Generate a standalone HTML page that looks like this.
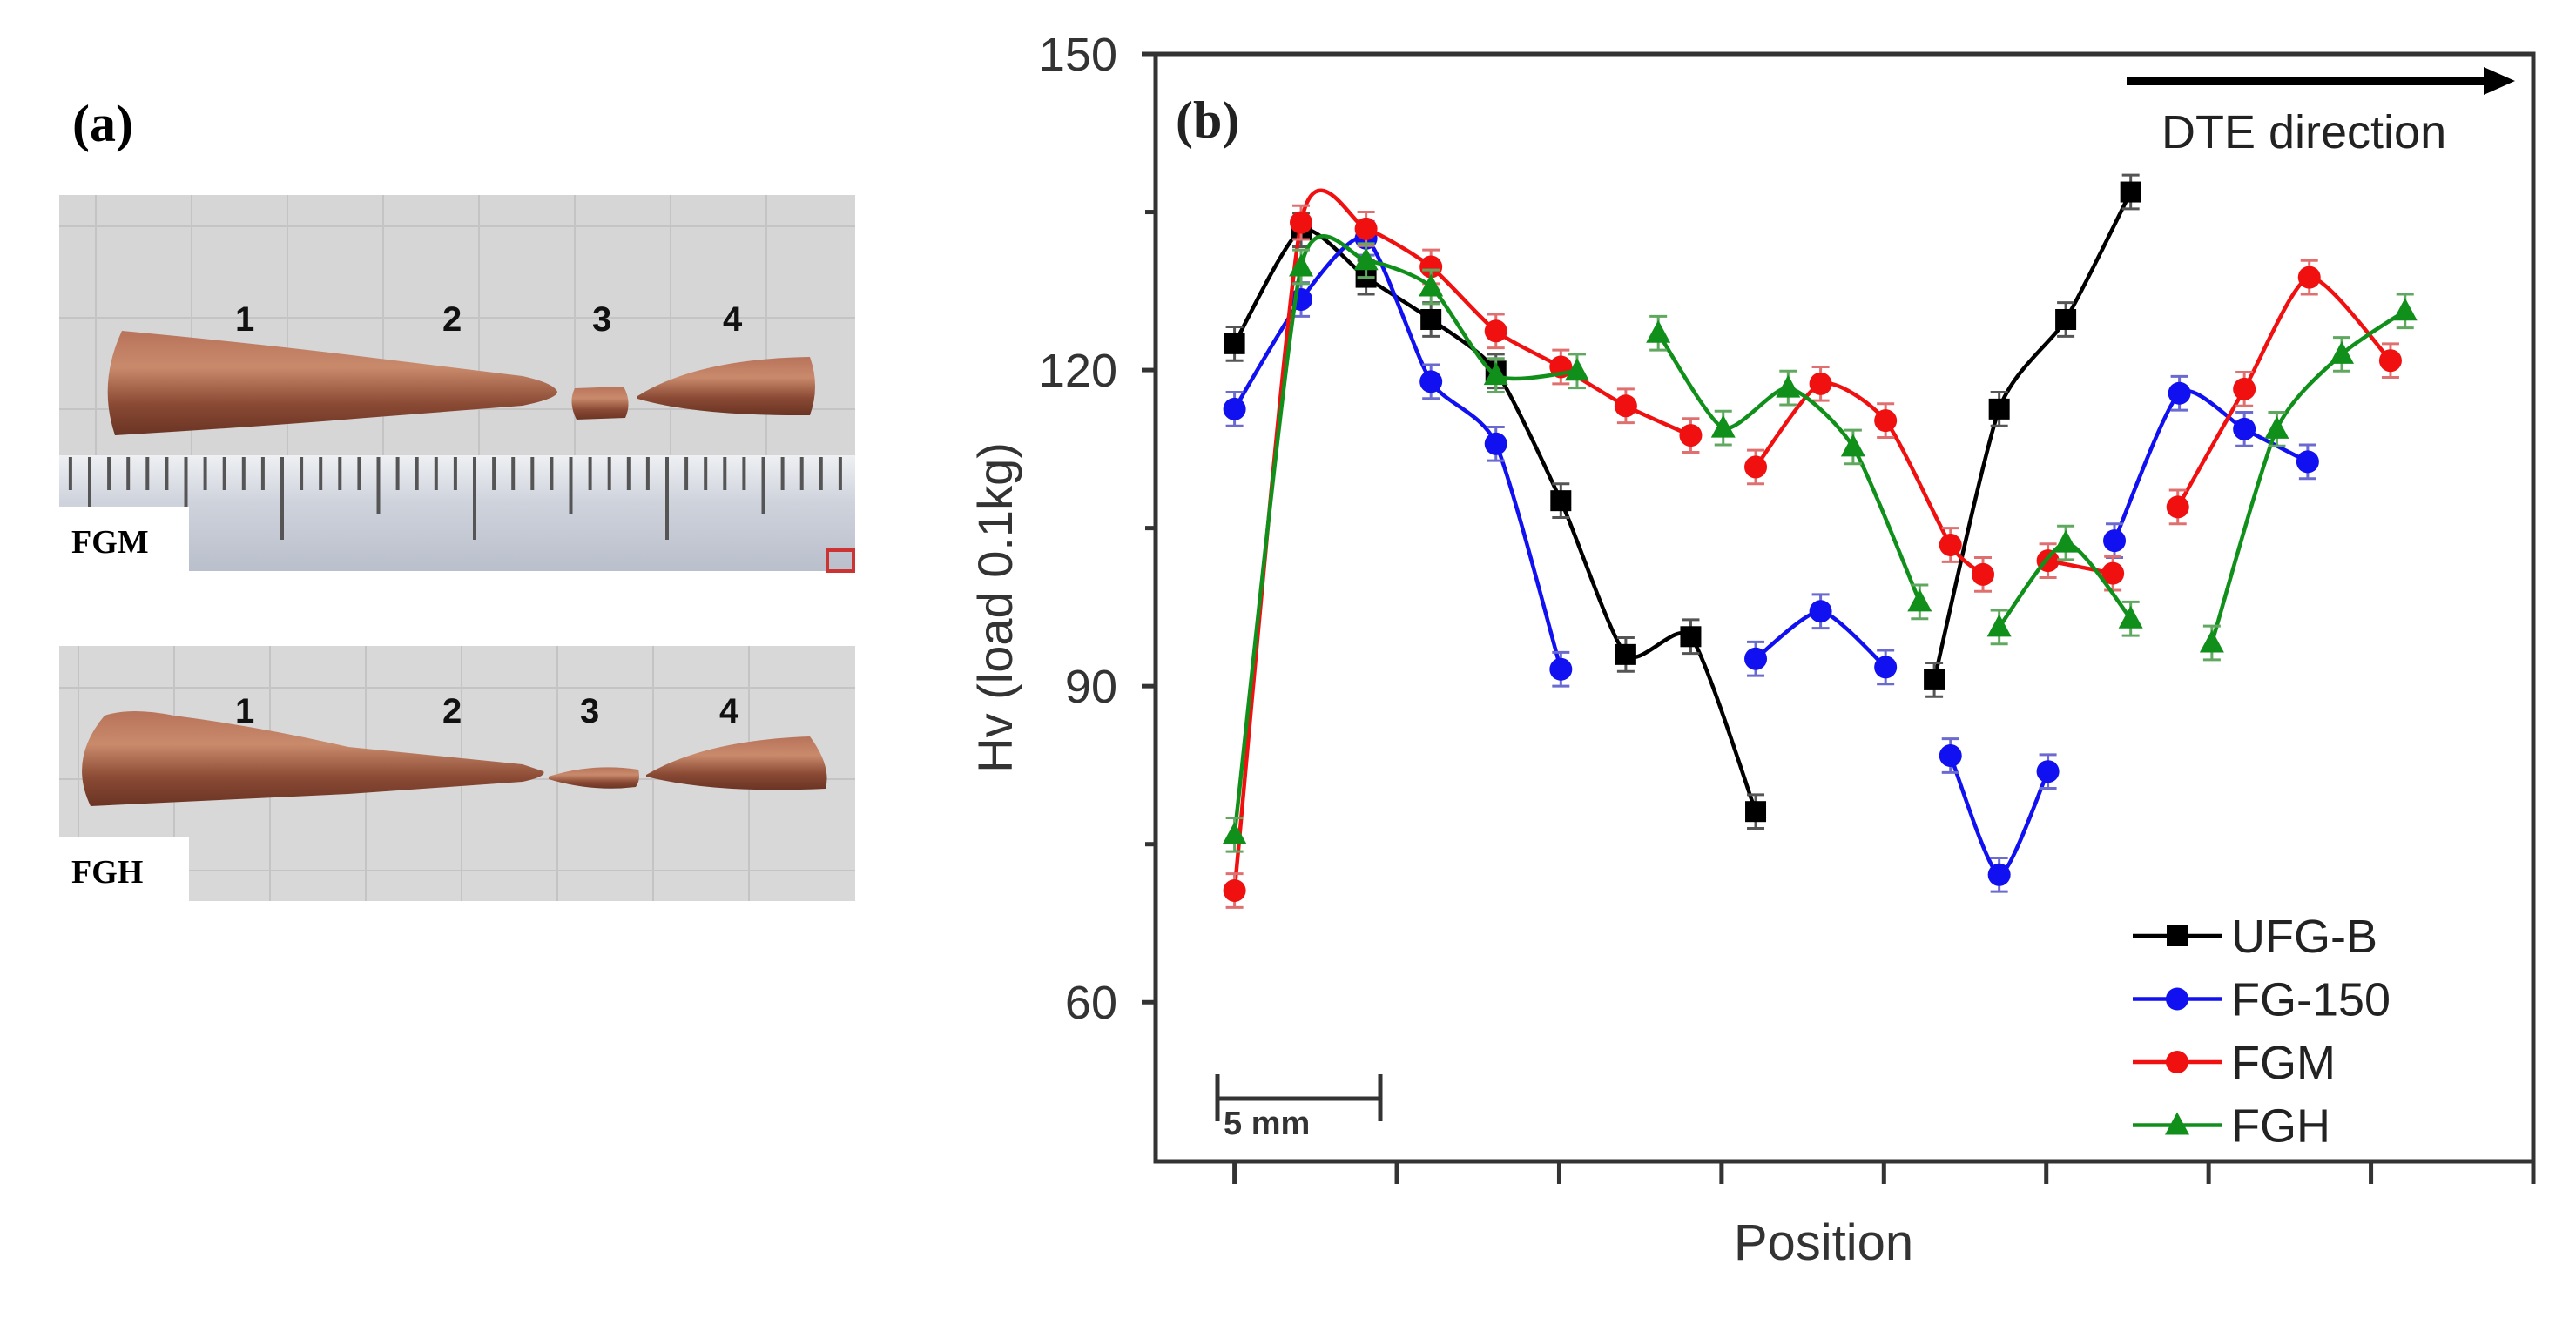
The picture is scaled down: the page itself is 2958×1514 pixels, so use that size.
<!DOCTYPE html>
<html><head><meta charset="utf-8"><style>
html,body{margin:0;padding:0;background:#fff;}
svg{display:block;}
text{font-family:"Liberation Sans",sans-serif;}
.serif{font-family:"Liberation Serif",serif;font-weight:bold;}
</style></head><body>
<svg id="fig" width="2958" height="1514" viewBox="0 0 2958 1514" xmlns="http://www.w3.org/2000/svg">
<defs>
<linearGradient id="cu" x1="0" y1="0" x2="0" y2="1">
<stop offset="0" stop-color="#b8735a"/><stop offset="0.35" stop-color="#c98a6c"/><stop offset="0.7" stop-color="#8a4a34"/><stop offset="1" stop-color="#6a3424"/>
</linearGradient>
<linearGradient id="ruler" x1="0" y1="0" x2="0" y2="1">
<stop offset="0" stop-color="#eef0f3"/><stop offset="0.4" stop-color="#cfd3dc"/><stop offset="1" stop-color="#b9bfcb"/>
</linearGradient>
</defs>
<g id="panelA">
<text class="serif" x="83" y="162" font-size="60">(a)</text>
<g>
<rect x="68" y="224" width="914" height="432" fill="#d6d6d6"/>
<g stroke="#c4c4c4" stroke-width="2" id="grid1"></g>
<path d="M140,380 Q112,440 132,500 Q300,490 420,480 L600,466 Q640,458 640,450 Q636,440 600,432 L420,410 Q300,395 140,380 Z" fill="url(#cu)"/>
<path d="M660,446 Q652,462 662,482 L718,480 Q726,462 716,444 Z" fill="url(#cu)"/>
<path d="M732,455 Q800,412 930,410 Q942,444 930,477 Q800,478 732,458 Z" fill="url(#cu)"/>
<rect x="68" y="523" width="914" height="133" fill="url(#ruler)"/>
<g id="ruler1" stroke="#555" stroke-width="4"></g>
<rect x="68" y="582" width="149" height="74" fill="#fff"/>
<text class="serif" x="82" y="635" font-size="38">FGM</text>
<rect x="950" y="632" width="30" height="24" fill="none" stroke="#c33" stroke-width="4"/>
<g class="serif" font-size="40" fill="#111">
<text x="270" y="380">1</text><text x="508" y="380">2</text><text x="680" y="380">3</text><text x="830" y="380">4</text>
</g>
</g>
<g>
<rect x="68" y="742" width="914" height="293" fill="#d8d8d8"/>
<g stroke="#c4c4c4" stroke-width="2" id="grid2"></g>
<path d="M120,822 Q78,872 104,926 L400,912 L600,898 Q628,892 624,886 L600,878 L400,858 Q300,835 200,822 Q150,812 120,822 Z" fill="url(#cu)"/>
<path d="M630,892 Q680,876 733,884 Q736,896 730,904 Q680,910 630,895 Z" fill="url(#cu)"/>
<path d="M742,890 Q810,850 930,846 Q955,880 948,906 Q820,912 742,892 Z" fill="url(#cu)"/>
<rect x="68" y="961" width="149" height="74" fill="#fff"/>
<text class="serif" x="82" y="1014" font-size="38">FGH</text>
<g class="serif" font-size="40" fill="#111">
<text x="270" y="830">1</text><text x="508" y="830">2</text><text x="666" y="830">3</text><text x="826" y="830">4</text>
</g>
</g>
</g>
<g id="chart"></g>
</svg>
<script>
// ---- chart data ----
const yTickValues = [60, 90, 120, 150];
const yMinorValues = [75, 105, 135];
const xTickPositions = [0, 1, 2, 3, 4, 5, 6, 7, 8];
const seriesNames = ["UFG-B", "FG-150", "FGM", "FGH"];
const ufgX = [0, 0.41, 0.81, 1.21, 1.61, 2.01, 2.41, 2.81, 3.21, 4.31, 4.71, 5.12, 5.52];
const ufgY = [122.5, 133.3, 128.8, 124.8, 119.9, 107.6, 93.0, 94.7, 78.1, 90.6, 116.3, 124.8, 136.9];
const ufgSeg = [0, 9];
const fg150X = [0, 0.41, 0.81, 1.21, 1.61, 2.01, 3.21, 3.61, 4.01, 4.41, 4.71, 5.01, 5.42, 5.82, 6.22, 6.61];
const fg150Y = [116.3, 126.7, 132.5, 118.9, 113.0, 91.6, 92.6, 97.1, 91.8, 83.4, 72.1, 81.9, 103.8, 117.8, 114.4, 111.3];
const fg150Seg = [0, 6, 9, 12];
const fgmX = [0, 0.41, 0.81, 1.21, 1.61, 2.01, 2.41, 2.81, 3.21, 3.61, 4.01, 4.41, 4.61, 5.01, 5.41, 5.81, 6.22, 6.62, 7.12];
const fgmY = [70.6, 134.0, 133.4, 129.8, 123.7, 120.3, 116.6, 113.8, 110.8, 118.7, 115.2, 103.4, 100.6, 101.9, 100.7, 107.0, 118.2, 128.8, 120.9];
const fgmSeg = [0, 8, 13, 15];
const fghX = [0, 0.41, 0.81, 1.21, 1.61, 2.11, 2.61, 3.01, 3.41, 3.81, 4.22, 4.71, 5.12, 5.52, 6.02, 6.42, 6.82, 7.21];
const fghY = [75.9, 129.8, 130.4, 127.9, 119.5, 119.9, 123.5, 114.5, 118.3, 112.7, 98.0, 95.6, 103.6, 96.4, 94.1, 114.4, 121.5, 125.6];
const fghSeg = [0, 6, 11, 14];
const errDefault = 1.6;

const L = 1327, R = 2909, T = 62, B = 1334;
const xMin = -0.486, xMax = 8.0, yMin = 44.9, yMax = 150;
const sx = v => L + (v - xMin) / (xMax - xMin) * (R - L);
const sy = v => B - (v - yMin) / (yMax - yMin) * (B - T);
const NS = "http://www.w3.org/2000/svg";
const chart = document.getElementById('chart');
function mk(tag, attrs, parent) {
  const e = document.createElementNS(NS, tag);
  for (const k in attrs) e.setAttribute(k, attrs[k]);
  (parent || chart).appendChild(e);
  return e;
}
(function () {
  const g1 = document.getElementById('grid1'), g2 = document.getElementById('grid2');
  for (let x = 110; x < 982; x += 110) { mk('line', {x1: x, y1: 224, x2: x, y2: 523}, g1); mk('line', {x1: x - 20, y1: 742, x2: x - 20, y2: 1035}, g2); }
  for (let y = 260; y < 523; y += 105) mk('line', {x1: 68, y1: y, x2: 982, y2: y}, g1);
  for (let y = 790; y < 1035; y += 105) mk('line', {x1: 68, y1: y, x2: 982, y2: y}, g2);
  const r = document.getElementById('ruler1');
  for (let i = -11; i < 30; i++) {
    const x = 324 + i * 22.1;
    if (x < 75 || x > 975) continue;
    const m = ((i % 10) + 10) % 10;
    const len = m === 0 ? 95 : (m === 5 ? 65 : 38);
    mk('line', {x1: x, y1: 525, x2: x, y2: 525 + len}, r);
  }
})();

const frame = mk('rect', {x: L, y: T, width: R - L, height: B - T, fill: 'none', stroke: '#333', 'stroke-width': 5});


yTickValues.forEach(v => {
  const t = mk('line', {x1: L - 16, y1: sy(v), x2: L, y2: sy(v), stroke: '#333', 'stroke-width': 5});
  
  
  const lb = mk('text', {x: L - 44, y: sy(v) + 19, 'font-size': 54, 'text-anchor': 'end', fill: '#333'});
  lb.textContent = v;
  
  
});
yMinorValues.forEach(v => {
  const t = mk('line', {x1: L - 12, y1: sy(v), x2: L, y2: sy(v), stroke: '#333', 'stroke-width': 5});
  
  
});
xTickPositions.forEach(v => {
  const t = mk('line', {x1: sx(v), y1: B, x2: sx(v), y2: B + 26, stroke: '#333', 'stroke-width': 5});
  
  
});
const yt = mk('text', {x: 0, y: 0, 'font-size': 56, 'text-anchor': 'middle', fill: '#333', transform: 'translate(1162,698) rotate(-90)'});
yt.textContent = 'Hv (load 0.1kg)';


const xt = mk('text', {x: 2094, y: 1447, 'font-size': 58, 'text-anchor': 'middle', fill: '#333'});
xt.textContent = 'Position';


const bl = mk('text', {x: 1350, y: 158, 'font-size': 60, class: 'serif', fill: '#222'});
bl.textContent = '(b)';


const ar = mk('line', {x1: 2442, y1: 93, x2: 2855, y2: 93, stroke: '#000', 'stroke-width': 10});


const ah = mk('polygon', {points: '2888,93 2852,77 2852,109', fill: '#000'});


const dt = mk('text', {x: 2482, y: 170, 'font-size': 54, fill: '#222'});
dt.textContent = 'DTE direction';


const sb = mk('path', {d: 'M1398,1234 V1288 M1398,1262 H1585 M1585,1234 V1288', stroke: '#333', 'stroke-width': 5, fill: 'none'});


const sbt = mk('text', {x: 1405, y: 1303, 'font-size': 38, 'font-weight': 'bold', fill: '#333'});
sbt.textContent = '5 mm';



function curve(pts) {
  if (pts.length < 2) return '';
  const k = 9;
  let d = 'M' + pts[0][0] + ',' + pts[0][1];
  for (let i = 0; i < pts.length - 1; i++) {
    const p0 = pts[i - 1] || pts[i], p1 = pts[i], p2 = pts[i + 1], p3 = pts[i + 2] || p2;
    const c1x = p1[0] + (p2[0] - p0[0]) / k, c1y = p1[1] + (p2[1] - p0[1]) / k;
    const c2x = p2[0] - (p3[0] - p1[0]) / k, c2y = p2[1] - (p3[1] - p1[1]) / k;
    d += ' C' + c1x + ',' + c1y + ' ' + c2x + ',' + c2y + ' ' + p2[0] + ',' + p2[1];
  }
  return d;
}
function marker(g, shape, x, y, color) {
  let m;
  if (shape === 'square') m = mk('rect', {x: x - 12, y: y - 12, width: 24, height: 24, fill: color}, g);
  else if (shape === 'circle') m = mk('circle', {cx: x, cy: y, r: 13, fill: color}, g);
  else m = mk('polygon', {points: `${x},${y - 15} ${x - 14},${y + 11} ${x + 14},${y + 11}`, fill: color}, g);
  return m;
}
function drawSeries(name, xs, ys, segs, color, errColor, shape) {
  const g = mk('g', {});
  
  
  for (let s = 0; s < segs.length; s++) {
    const a = segs[s], b = s + 1 < segs.length ? segs[s + 1] : xs.length;
    const pts = [];
    for (let i = a; i < b; i++) pts.push([sx(xs[i]), sy(ys[i])]);
    const p = mk('path', {d: curve(pts), fill: 'none', stroke: color, 'stroke-width': 4.5}, g);
    
    
  }
  xs.forEach((x, i) => {
    const px = sx(x), y1 = sy(ys[i] + errDefault), y2 = sy(ys[i] - errDefault);
    const e = mk('path', {d: `M${px - 10},${y1} H${px + 10} M${px},${y1} V${y2} M${px - 10},${y2} H${px + 10}`, stroke: errColor, 'stroke-width': 3, fill: 'none'}, g);
    
    
  });
  xs.forEach((x, i) => {
    const m = marker(g, shape, sx(x), sy(ys[i]), color);
    
    
  });
}
drawSeries('ufg-b', ufgX, ufgY, ufgSeg, '#000', '#555', 'square');
drawSeries('fg-150', fg150X, fg150Y, fg150Seg, '#1010f0', '#6a6ad0', 'circle');
drawSeries('fgm', fgmX, fgmY, fgmSeg, '#f01010', '#e07070', 'circle');
drawSeries('fgh', fghX, fghY, fghSeg, '#10901a', '#60a860', 'triangle');

const legColors = ['#000', '#1010f0', '#f01010', '#10901a'];
const legShapes = ['square', 'circle', 'circle', 'triangle'];
const lg = mk('g', {});


seriesNames.forEach((n, i) => {
  const y = 1075 + i * 72.5;
  const e = mk('g', {}, lg);
  
  
  mk('line', {x1: 2449, y1: y, x2: 2551, y2: y, stroke: legColors[i], 'stroke-width': 4.5}, e);
  marker(e, legShapes[i], 2500, y, legColors[i]);
  const t = mk('text', {x: 2562, y: y + 19, 'font-size': 54, fill: '#222'}, e);
  t.textContent = n;
});
</script>
</body></html>
